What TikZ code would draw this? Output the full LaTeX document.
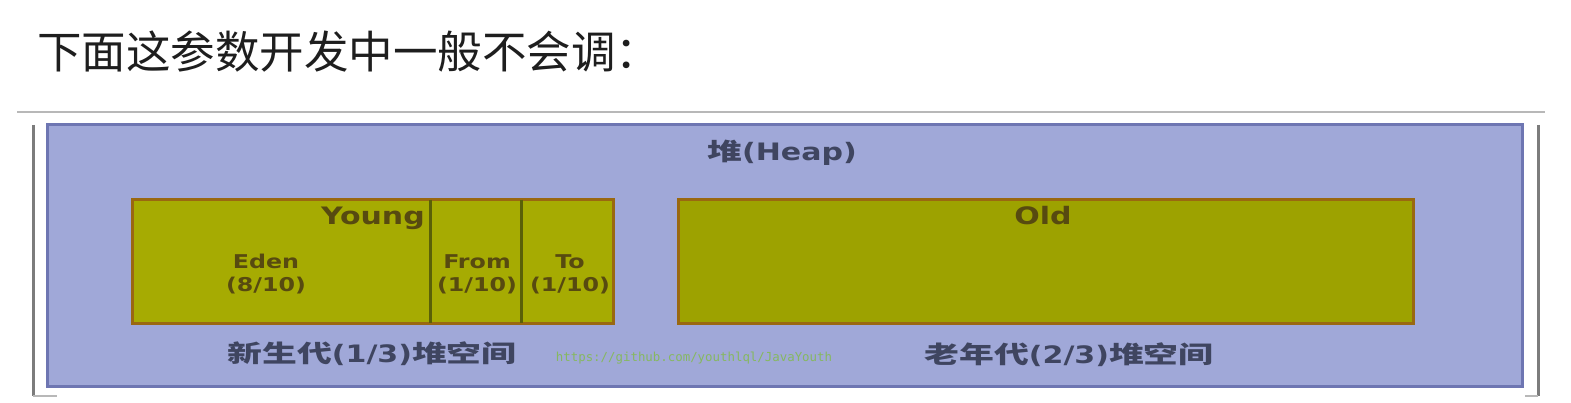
\documentclass[tikz,border=0pt]{standalone}
\usepackage{fontspec}
\setmainfont{DejaVu Sans}
\newfontfamily\titlefont{Noto Sans CJK SC}
\newfontfamily\cjkd[FakeStretch=1.45]{Noto Sans CJK SC}
\newfontfamily\latd[FakeStretch=1.25]{DejaVu Sans}
\newfontfamily\urlfont{DejaVu Sans Mono}
\definecolor{heapfill}{HTML}{A0A8D8}
\definecolor{heapdraw}{HTML}{6E76B2}
\definecolor{youngfill}{HTML}{A6AB02}
\definecolor{oldfill}{HTML}{9DA200}
\definecolor{boxdraw}{HTML}{9A6810}
\definecolor{divider}{HTML}{5A6008}
\definecolor{boxtext}{HTML}{574A10}
\definecolor{heaptext}{HTML}{3F4560}
\definecolor{urlgreen}{HTML}{86B860}
\definecolor{titletext}{HTML}{1E1E1E}
\definecolor{frameline}{HTML}{7C7C7C}
\definecolor{ruleline}{HTML}{B8B8B8}
\tikzset{
  heapbox/.style={draw=heapdraw, fill=heapfill, line width=3pt, inner sep=0pt},
  genbox/.style={draw=boxdraw, line width=3pt, inner sep=0pt, minimum height=123pt},
  divline/.style={draw=divider, line width=3pt},
  boxlabel/.style={text=boxtext, inner sep=0pt, align=center, font=\latd\bfseries\fontsize{19}{23}\selectfont},
  biglabel/.style={text=boxtext, inner sep=0pt, font=\latd\bfseries\fontsize{24}{28}\selectfont},
  heaplabel/.style={text=heaptext, inner sep=0pt, font=\bfseries\fontsize{24}{28}\selectfont},
}
\begin{document}
\begin{tikzpicture}[x=1pt,y=-1pt]
\useasboundingbox (0,0) rectangle (1571,403);
\fill[white] (0,0) rectangle (1571,403);
% title
\node[anchor=base west, inner sep=0pt, text=titletext, font=\titlefont\fontsize{44.5}{50}\selectfont] (title) at (37,69) {下面这参数开发中一般不会调：};
% rule and frame lines
\coordinate (ruleL) at (17,112);
\coordinate (ruleR) at (1545,112);
\draw[ruleline, line width=2pt] (ruleL) -- (ruleR);
\coordinate (fL1) at (33,125); \coordinate (fL2) at (33,396); \coordinate (fL3) at (57,396);
\coordinate (fR1) at (1538,125); \coordinate (fR2) at (1538,396); \coordinate (fR3) at (1525,396);
\draw[frameline, line width=3pt] (fL1) -- (fL2);
\draw[frameline, line width=3pt] (fR1) -- (fR2);
\draw[ruleline, line width=1.5pt] (fL2) -- (fL3);
\draw[ruleline, line width=1.5pt] (fR2) -- (fR3);
% heap
\node[heapbox, minimum width=1475pt, minimum height=261pt] (heap) at (784.5,255.5) {};
\node[heaplabel, anchor=base] (heaplbl) at (782,161) {{\cjkd 堆}{\latd (Heap)}};
% young
\node[genbox, fill=youngfill, minimum width=481pt] (young) at (372.5,261.5) {};
\coordinate (d1t) at (430,200); \coordinate (d1b) at (430,323);
\coordinate (d2t) at (521,200); \coordinate (d2b) at (521,323);
\draw[divline] (d1t) -- (d1b);
\draw[divline] (d2t) -- (d2b);
\node[biglabel, anchor=base east] (younglbl) at (425,225) {Young};
\node[boxlabel, anchor=base] (eden) at (266,291) {Eden\\(8/10)};
\node[boxlabel, anchor=base] (from) at (477,291) {From\\(1/10)};
\node[boxlabel, anchor=base] (to) at (570,291) {To\\(1/10)};
% old
\node[genbox, fill=oldfill, minimum width=735pt] (old) at (1045.5,261.5) {};
\node[biglabel, anchor=base] (oldlbl) at (1043,225) {Old};
% bottom labels
\node[heaplabel, anchor=base] (younggen) at (372,362) {{\cjkd 新生代}{\latd (1/3)}{\cjkd 堆空间}};
\node[heaplabel, anchor=base] (oldgen) at (1069,363) {{\cjkd 老年代}{\latd (2/3)}{\cjkd 堆空间}};
\node[anchor=base, inner sep=0pt, text=urlgreen, font=\urlfont\fontsize{12.4}{14}\selectfont] (url) at (694,361) {https://github.com/youthlql/JavaYouth};
\end{tikzpicture}
\end{document}
